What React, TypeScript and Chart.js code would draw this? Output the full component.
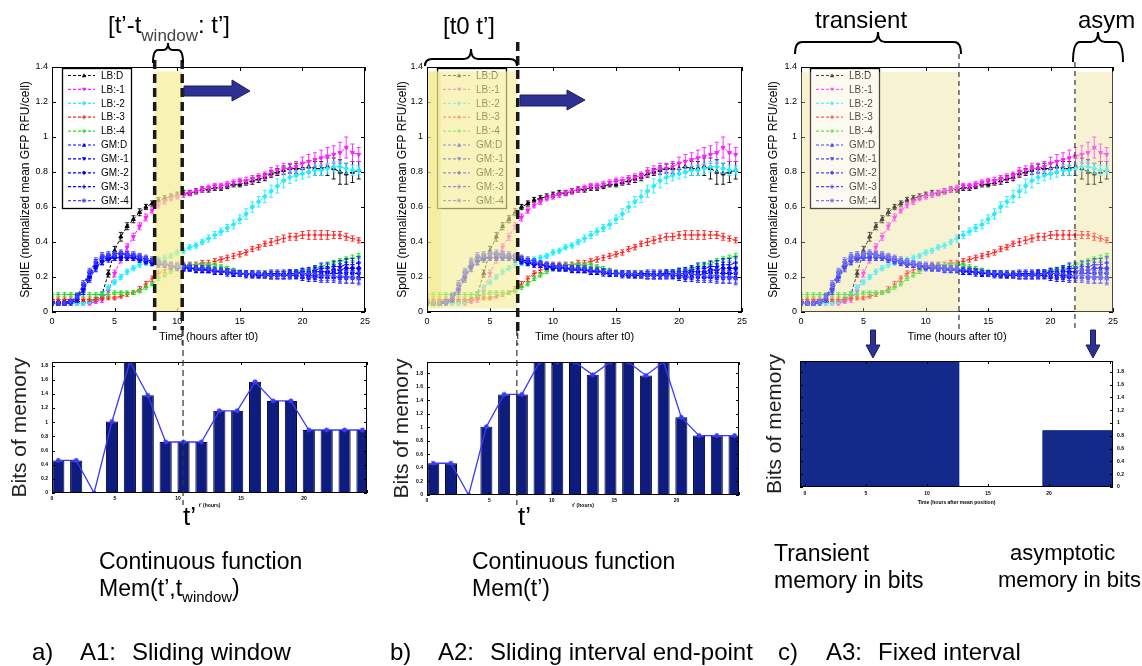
import React, { useEffect, useRef } from "react";
import { Chart, registerables } from "chart.js";

Chart.register(...registerables);
Chart.defaults.font.family = '"Liberation Sans", Arial, Helvetica, sans-serif';
Chart.defaults.color = "#000";

// ---------------- data: SpoIIE time courses ----------------
const timeHours = [
  0, 0.5, 1, 1.5, 2, 2.5, 3, 3.5, 4, 4.5,
  5, 5.5, 6, 6.5, 7, 7.5, 8, 8.5, 9, 9.5,
  10, 10.5, 11, 11.5, 12, 12.5, 13, 13.5, 14, 14.5,
  15, 15.5, 16, 16.5, 17, 17.5, 18, 18.5, 19, 19.5,
  20, 20.5, 21, 21.5, 22, 22.5, 23, 23.5, 24, 24.5,
];

const lbD = [
  0.06, 0.06, 0.06, 0.06, 0.06, 0.06, 0.06, 0.07, 0.10, 0.22,
  0.35, 0.43, 0.49, 0.53, 0.57, 0.60, 0.62, 0.64, 0.65, 0.66,
  0.67, 0.68, 0.68, 0.69, 0.70, 0.70, 0.71, 0.71, 0.72, 0.73,
  0.73, 0.74, 0.75, 0.76, 0.77, 0.79, 0.80, 0.81, 0.82, 0.82,
  0.82, 0.83, 0.82, 0.82, 0.83, 0.82, 0.80, 0.79, 0.80, 0.81,
];
const lbM1 = [
  0.05, 0.05, 0.05, 0.05, 0.05, 0.05, 0.05, 0.06, 0.07, 0.12,
  0.22, 0.30, 0.37, 0.43, 0.49, 0.54, 0.58, 0.61, 0.63, 0.65,
  0.66, 0.67, 0.68, 0.69, 0.70, 0.71, 0.72, 0.72, 0.73, 0.74,
  0.75, 0.75, 0.76, 0.77, 0.78, 0.80, 0.81, 0.82, 0.82, 0.83,
  0.85, 0.86, 0.87, 0.88, 0.89, 0.90, 0.91, 0.94, 0.91, 0.90,
];
const lbM2 = [
  0.05, 0.05, 0.05, 0.05, 0.05, 0.05, 0.06, 0.07, 0.10, 0.14,
  0.17, 0.20, 0.23, 0.25, 0.27, 0.28, 0.29, 0.30, 0.31, 0.32,
  0.34, 0.35, 0.37, 0.38, 0.40, 0.42, 0.44, 0.46, 0.48, 0.50,
  0.53, 0.56, 0.60, 0.63, 0.66, 0.69, 0.72, 0.75, 0.77, 0.78,
  0.79, 0.80, 0.81, 0.81, 0.82, 0.83, 0.83, 0.82, 0.81, 0.81,
];
const lbM3 = [
  0.07, 0.07, 0.07, 0.07, 0.07, 0.07, 0.07, 0.07, 0.08, 0.08,
  0.08, 0.09, 0.10, 0.11, 0.13, 0.16, 0.19, 0.22, 0.24, 0.25,
  0.26, 0.27, 0.27, 0.27, 0.28, 0.28, 0.29, 0.30, 0.31, 0.32,
  0.33, 0.34, 0.36, 0.37, 0.39, 0.40, 0.41, 0.42, 0.43, 0.43,
  0.44, 0.44, 0.44, 0.44, 0.44, 0.44, 0.44, 0.43, 0.42, 0.41,
];
const lbM4 = [
  0.10, 0.10, 0.10, 0.10, 0.10, 0.10, 0.10, 0.10, 0.10, 0.10,
  0.11, 0.11, 0.11, 0.11, 0.12, 0.14, 0.16, 0.19, 0.21, 0.23,
  0.25, 0.26, 0.27, 0.27, 0.27, 0.27, 0.27, 0.26, 0.25, 0.24,
  0.23, 0.22, 0.22, 0.22, 0.22, 0.22, 0.22, 0.22, 0.23, 0.23,
  0.24, 0.24, 0.25, 0.26, 0.27, 0.28, 0.29, 0.30, 0.31, 0.32,
];
const gmD = [
  0.05, 0.05, 0.05, 0.06, 0.08, 0.14, 0.21, 0.27, 0.30, 0.31,
  0.32, 0.32, 0.32, 0.32, 0.31, 0.30, 0.29, 0.28, 0.27, 0.26,
  0.26, 0.25, 0.25, 0.25, 0.25, 0.24, 0.24, 0.23, 0.23, 0.22,
  0.22, 0.22, 0.21, 0.21, 0.21, 0.21, 0.21, 0.21, 0.21, 0.21,
  0.20, 0.20, 0.20, 0.20, 0.20, 0.20, 0.20, 0.20, 0.20, 0.20,
];
const gmM1 = [
  0.05, 0.05, 0.05, 0.06, 0.09, 0.15, 0.22, 0.28, 0.31, 0.32,
  0.33, 0.33, 0.33, 0.32, 0.31, 0.30, 0.29, 0.28, 0.27, 0.27,
  0.26, 0.26, 0.25, 0.25, 0.24, 0.24, 0.23, 0.23, 0.22, 0.22,
  0.22, 0.21, 0.21, 0.21, 0.21, 0.21, 0.21, 0.21, 0.21, 0.21,
  0.21, 0.21, 0.21, 0.21, 0.22, 0.22, 0.22, 0.22, 0.22, 0.22,
];
const gmM2 = [
  0.05, 0.05, 0.05, 0.06, 0.08, 0.13, 0.20, 0.26, 0.29, 0.31,
  0.31, 0.31, 0.31, 0.31, 0.30, 0.29, 0.28, 0.27, 0.27, 0.26,
  0.25, 0.25, 0.25, 0.24, 0.24, 0.24, 0.23, 0.23, 0.23, 0.22,
  0.22, 0.22, 0.22, 0.21, 0.21, 0.21, 0.21, 0.21, 0.22, 0.22,
  0.22, 0.22, 0.23, 0.23, 0.23, 0.24, 0.24, 0.25, 0.25, 0.25,
];
const gmM3 = [
  0.05, 0.05, 0.05, 0.05, 0.07, 0.12, 0.19, 0.25, 0.29, 0.30,
  0.31, 0.31, 0.31, 0.31, 0.30, 0.29, 0.28, 0.28, 0.27, 0.26,
  0.26, 0.25, 0.25, 0.24, 0.24, 0.24, 0.23, 0.23, 0.23, 0.22,
  0.22, 0.22, 0.22, 0.22, 0.22, 0.22, 0.22, 0.22, 0.22, 0.22,
  0.23, 0.23, 0.24, 0.25, 0.25, 0.26, 0.26, 0.27, 0.27, 0.28,
];
const gmM4 = [
  0.05, 0.05, 0.05, 0.06, 0.09, 0.16, 0.23, 0.29, 0.32, 0.33,
  0.33, 0.34, 0.33, 0.33, 0.32, 0.31, 0.30, 0.29, 0.28, 0.27,
  0.27, 0.26, 0.26, 0.25, 0.25, 0.25, 0.24, 0.24, 0.23, 0.23,
  0.22, 0.22, 0.22, 0.22, 0.21, 0.21, 0.21, 0.21, 0.21, 0.22,
  0.22, 0.22, 0.22, 0.21, 0.21, 0.21, 0.21, 0.20, 0.20, 0.19,
];

// error bar half-lengths
const errLbD = [
  0.01, 0.01, 0.01, 0.01, 0.01, 0.01, 0.01, 0.01, 0.015, 0.02,
  0.025, 0.025, 0.02, 0.02, 0.02, 0.015, 0.015, 0.015, 0.015, 0.015,
  0.015, 0.015, 0.015, 0.015, 0.015, 0.015, 0.015, 0.015, 0.015, 0.015,
  0.015, 0.015, 0.02, 0.02, 0.02, 0.02, 0.02, 0.025, 0.025, 0.03,
  0.03, 0.035, 0.04, 0.04, 0.05, 0.06, 0.07, 0.06, 0.06, 0.05,
];
const errLbM1 = [
  0.01, 0.01, 0.01, 0.01, 0.01, 0.01, 0.01, 0.01, 0.015, 0.02,
  0.02, 0.02, 0.02, 0.02, 0.02, 0.02, 0.015, 0.015, 0.015, 0.015,
  0.015, 0.015, 0.015, 0.015, 0.015, 0.015, 0.015, 0.015, 0.015, 0.015,
  0.015, 0.02, 0.02, 0.02, 0.02, 0.025, 0.025, 0.03, 0.03, 0.03,
  0.035, 0.04, 0.04, 0.045, 0.05, 0.05, 0.06, 0.06, 0.05, 0.04,
];
const errLbM2 = [
  0.01, 0.01, 0.01, 0.01, 0.01, 0.01, 0.01, 0.01, 0.015, 0.015,
  0.015, 0.015, 0.015, 0.015, 0.015, 0.015, 0.015, 0.015, 0.015, 0.015,
  0.015, 0.015, 0.015, 0.015, 0.015, 0.02, 0.02, 0.02, 0.02, 0.025,
  0.025, 0.03, 0.03, 0.03, 0.035, 0.035, 0.04, 0.04, 0.035, 0.03,
  0.03, 0.03, 0.03, 0.03, 0.03, 0.03, 0.03, 0.03, 0.03, 0.025,
];
const errLbM3 = [
  0.01, 0.01, 0.01, 0.01, 0.01, 0.01, 0.01, 0.01, 0.01, 0.01,
  0.01, 0.01, 0.01, 0.01, 0.015, 0.015, 0.015, 0.015, 0.015, 0.015,
  0.015, 0.015, 0.015, 0.015, 0.015, 0.015, 0.015, 0.015, 0.015, 0.015,
  0.015, 0.015, 0.015, 0.015, 0.015, 0.02, 0.02, 0.02, 0.02, 0.02,
  0.02, 0.025, 0.025, 0.025, 0.025, 0.02, 0.02, 0.02, 0.015, 0.015,
];
const errLbM4 = [
  0.01, 0.01, 0.01, 0.01, 0.01, 0.01, 0.01, 0.01, 0.01, 0.01,
  0.01, 0.01, 0.01, 0.01, 0.01, 0.01, 0.01, 0.01, 0.01, 0.01,
  0.01, 0.01, 0.01, 0.01, 0.01, 0.01, 0.01, 0.01, 0.01, 0.01,
  0.01, 0.01, 0.01, 0.01, 0.01, 0.01, 0.01, 0.01, 0.01, 0.01,
  0.01, 0.01, 0.01, 0.01, 0.015, 0.015, 0.015, 0.015, 0.015, 0.015,
];
const errGm = [
  0.01, 0.01, 0.01, 0.01, 0.015, 0.02, 0.02, 0.02, 0.02, 0.015,
  0.015, 0.015, 0.015, 0.015, 0.015, 0.015, 0.015, 0.015, 0.015, 0.015,
  0.015, 0.015, 0.015, 0.015, 0.015, 0.015, 0.015, 0.015, 0.015, 0.015,
  0.015, 0.015, 0.015, 0.015, 0.015, 0.02, 0.02, 0.02, 0.02, 0.02,
  0.02, 0.025, 0.025, 0.03, 0.03, 0.03, 0.035, 0.035, 0.035, 0.035,
];

const seriesLabels = ["LB:D", "LB:-1", "LB:-2", "LB:-3", "LB:-4", "GM:D", "GM:-1", "GM:-2", "GM:-3", "GM:-4"];
const seriesValues = [lbD, lbM1, lbM2, lbM3, lbM4, gmD, gmM1, gmM2, gmM3, gmM4];
const seriesErrors = [errLbD, errLbM1, errLbM2, errLbM3, errLbM4, errGm, errGm, errGm, errGm, errGm];
const seriesColors = ["#000000", "#ff1eff", "#22eeff", "#ff2222", "#1ee01e", "#0000ff", "#0000ff", "#0000ff", "#0000ff", "#4646ff"];
const seriesMarkers = ["tri", "triDown", "diamond", "plus", "plus", "tri", "triDown", "diamond", "plus", "star"];

// ---------------- data: memory bars ----------------
const windowEndTimes = [0.5, 1.92, 3.34, 4.76, 6.18, 7.6, 9.02, 10.44, 11.86, 13.28, 14.7, 16.12, 17.54, 18.96, 20.38, 21.8, 23.22, 24.64];
const memSlidingWindow = [0.46, 0.46, 0, 1.01, 1.85, 1.38, 0.72, 0.72, 0.72, 1.16, 1.16, 1.57, 1.3, 1.3, 0.89, 0.89, 0.89, 0.89];
const memSlidingEndpoint = [0.47, 0.47, 0, 1.01, 1.49, 1.49, 1.97, 1.97, 1.97, 1.78, 1.97, 1.97, 1.77, 1.97, 1.15, 0.88, 0.88, 0.88];
const fixedIntervalStart = [-0.4, 19.5];
const fixedIntervalEnd = [12.6, 25.25];
const fixedMemoryBits = [1.97, 0.88];

// interval markers (hours)
const windowStart = 8.2;
const windowEnd = 10.4;
const endpointT = 7.2;
const transientEnd = 12.66;
const asymStart = 21.95;

// ---------------- plugins ----------------
function drawMarker(ctx: any, kind: string, x: number, y: number, r: number, color: string) {
  ctx.save();
  ctx.fillStyle = color;
  ctx.strokeStyle = color;
  ctx.lineWidth = 1;
  ctx.beginPath();
  if (kind === "tri") {
    ctx.moveTo(x, y - r); ctx.lineTo(x + r, y + r * 0.8); ctx.lineTo(x - r, y + r * 0.8); ctx.closePath(); ctx.fill();
  } else if (kind === "triDown") {
    ctx.moveTo(x, y + r); ctx.lineTo(x + r, y - r * 0.8); ctx.lineTo(x - r, y - r * 0.8); ctx.closePath(); ctx.fill();
  } else if (kind === "diamond") {
    ctx.moveTo(x, y - r); ctx.lineTo(x + r, y); ctx.lineTo(x, y + r); ctx.lineTo(x - r, y); ctx.closePath(); ctx.fill();
  } else if (kind === "plus") {
    ctx.moveTo(x - r, y); ctx.lineTo(x + r, y); ctx.moveTo(x, y - r); ctx.lineTo(x, y + r); ctx.stroke();
  } else {
    ctx.moveTo(x - r, y); ctx.lineTo(x + r, y); ctx.moveTo(x, y - r); ctx.lineTo(x, y + r);
    ctx.moveTo(x - r * 0.7, y - r * 0.7); ctx.lineTo(x + r * 0.7, y + r * 0.7);
    ctx.moveTo(x - r * 0.7, y + r * 0.7); ctx.lineTo(x + r * 0.7, y - r * 0.7); ctx.stroke();
  }
  ctx.restore();
}

const errorBarPlugin = {
  id: "mErr",
  afterDatasetDraw(chart: any, args: any) {
    const ds = chart.data.datasets[args.index];
    if (!ds.errors) return;
    const { ctx, chartArea: a } = chart;
    const ys = chart.scales.y;
    ctx.save();
    ctx.beginPath();
    ctx.rect(a.left, a.top, a.right - a.left, a.bottom - a.top);
    ctx.clip();
    ctx.strokeStyle = ds.borderColor;
    ctx.lineWidth = 0.9;
    args.meta.data.forEach((el: any, j: number) => {
      const v = ds.data[j].y;
      const e = ds.errors[j];
      const y1 = ys.getPixelForValue(v + e);
      const y2 = ys.getPixelForValue(v - e);
      ctx.beginPath();
      ctx.moveTo(el.x, y1); ctx.lineTo(el.x, y2);
      ctx.moveTo(el.x - 2, y1); ctx.lineTo(el.x + 2, y1);
      ctx.moveTo(el.x - 2, y2); ctx.lineTo(el.x + 2, y2);
      ctx.stroke();
    });
    ctx.restore();
  },
};

function paintBands(chart: any, o: any, alphaScale: number) {
  const { ctx } = chart;
  const xs = chart.scales.x;
  const ys = chart.scales.y;
  ctx.save();
  o.bands.forEach((b: any) => {
    const x1 = xs.getPixelForValue(b.from);
    const x2 = xs.getPixelForValue(b.to);
    const y1 = ys.getPixelForValue(b.yTo);
    const y2 = ys.getPixelForValue(b.yFrom);
    ctx.globalAlpha = (b.alpha ?? 1) * alphaScale;
    ctx.fillStyle = b.color;
    ctx.fillRect(x1, y1, x2 - x1, y2 - y1);
  });
  ctx.restore();
}

const bandPlugin = {
  id: "mBands",
  beforeDatasetsDraw(chart: any, _a: any, o: any) {
    if (!o || !o.bands) return;
    if (o.under) paintBands(chart, o, 1);
  },
  afterDraw(chart: any, _a: any, o: any) {
    if (!o || !o.bands) return;
    if (o.overAlpha) paintBands(chart, o, o.overAlpha);
  },
};

const boxPlugin = {
  id: "mBox",
  afterDatasetsDraw(chart: any, _a: any, o: any) {
    const { ctx, chartArea: a } = chart;
    ctx.save();
    ctx.strokeStyle = "#000";
    ctx.lineWidth = 1;
    ctx.strokeRect(a.left + 0.5, a.top + 0.5, a.right - a.left - 1, a.bottom - a.top - 1);
    const tl = (o && o.tick) || 4;
    const xs = chart.scales.x;
    xs.ticks.forEach((_t: any, i: number) => {
      const px = Math.round(xs.getPixelForTick(i)) + 0.5;
      ctx.beginPath();
      ctx.moveTo(px, a.bottom); ctx.lineTo(px, a.bottom - tl);
      ctx.moveTo(px, a.top); ctx.lineTo(px, a.top + tl);
      ctx.stroke();
    });
    const ys = chart.scales[(o && o.yId) || "y"];
    ys.ticks.forEach((_t: any, i: number) => {
      const py = Math.round(ys.getPixelForTick(i)) + 0.5;
      ctx.beginPath();
      ctx.moveTo(a.left, py); ctx.lineTo(a.left + tl, py);
      ctx.moveTo(a.right, py); ctx.lineTo(a.right - tl, py);
      ctx.stroke();
    });
    ctx.restore();
  },
};

const legendPlugin = {
  id: "mLegend",
  afterDatasetsDraw(chart: any, _a: any, o: any) {
    if (!o || o.dx === undefined) return;
    const { ctx, chartArea: a } = chart;
    const x0 = Math.round(a.left + o.dx);
    const y0 = Math.round(a.top + o.dy);
    const w = 69;
    const h = 140;
    ctx.save();
    ctx.fillStyle = "#fff";
    ctx.fillRect(x0, y0, w, h);
    ctx.strokeStyle = "#000";
    ctx.lineWidth = 1.3;
    ctx.strokeRect(x0 + 0.5, y0 + 0.5, w, h);
    seriesLabels.forEach((lab, i) => {
      const y = y0 + 7.5 + i * 13.9;
      ctx.strokeStyle = seriesColors[i];
      ctx.lineWidth = 1.2;
      ctx.setLineDash([3, 2]);
      ctx.beginPath();
      ctx.moveTo(x0 + 6, y); ctx.lineTo(x0 + 33, y);
      ctx.stroke();
      ctx.setLineDash([]);
      drawMarker(ctx, seriesMarkers[i], x0 + 22, y, 2.2, seriesColors[i]);
      ctx.fillStyle = "#000";
      ctx.font = '10px "Liberation Sans", Arial, sans-serif';
      ctx.textBaseline = "middle";
      ctx.textAlign = "left";
      ctx.fillText(lab, x0 + 39, y + 0.5);
    });
    ctx.restore();
  },
};

const vlinePlugin = {
  id: "mLines",
  afterDraw(chart: any, _a: any, o: any) {
    if (!o || !o.lines) return;
    const { ctx } = chart;
    const xs = chart.scales.x;
    ctx.save();
    o.lines.forEach((l: any) => {
      const px = xs.getPixelForValue(l.x);
      ctx.strokeStyle = l.color;
      ctx.lineWidth = l.width;
      ctx.setLineDash(l.dash);
      ctx.beginPath();
      ctx.moveTo(px, l.y0);
      ctx.lineTo(px, l.y1);
      ctx.stroke();
    });
    ctx.restore();
  },
};

// ---------------- chart configs ----------------
const pointStyleOf: Record<string, string> = { tri: "triangle", triDown: "triangle", diamond: "rectRot", plus: "cross", star: "star" };
const fmtTick = (v: any) => String(Math.round(Number(v) * 10) / 10);

function topConfig(p: any) {
  const datasets = seriesValues.map((vals, i) => ({
    label: seriesLabels[i],
    data: vals.map((v, j) => ({ x: timeHours[j], y: v })),
    errors: seriesErrors[i],
    borderColor: seriesColors[i],
    backgroundColor: seriesColors[i],
    borderWidth: 1,
    borderDash: [3, 2],
    pointStyle: pointStyleOf[seriesMarkers[i]],
    rotation: seriesMarkers[i] === "triDown" ? 180 : 0,
    pointRadius: 2.3,
    pointBorderWidth: 1,
    tension: 0,
    order: 10 - i,
  }));
  return {
    type: "line",
    data: { datasets },
    options: {
      responsive: false,
      animation: false,
      devicePixelRatio: 1,
      events: [],
      layout: { padding: { top: 67, right: p.padRight, left: 0, bottom: 0 } },
      plugins: {
        legend: { display: false },
        tooltip: { enabled: false },
        mLegend: { dx: p.legendDx, dy: 1 },
        mBands: p.bands,
        mLines: { lines: p.lines },
        mBox: { tick: 4 },
      },
      scales: {
        x: {
          type: "linear",
          min: 0,
          max: 25,
          grid: { display: false, drawTicks: false },
          border: { display: false },
          ticks: { stepSize: 5, font: { size: 9 }, color: "#000", padding: 4, maxRotation: 0 },
          title: { display: true, text: "Time (hours after t0)", font: { size: 11 }, color: "#000", padding: { top: 0, bottom: 1 } },
          afterFit: (s: any) => { s.height = 33; },
        },
        y: {
          min: 0,
          max: 1.4,
          grid: { display: false, drawTicks: false },
          border: { display: false },
          ticks: { stepSize: 0.2, font: { size: 9 }, color: "#000", padding: 4, callback: fmtTick },
          title: { display: true, text: "SpoIIE (normalized mean GFP RFU/cell)", font: { size: 12 }, color: "#000", padding: { top: p.yTitlePad, bottom: 0 } },
          afterFit: (s: any) => { s.width = p.yWidth; },
        },
      },
    },
    plugins: [errorBarPlugin, bandPlugin, boxPlugin, legendPlugin, vlinePlugin],
  };
}

const tinyFont = { size: 5, weight: "bold" as const };

function barConfig(p: any) {
  const vals: number[] = p.values;
  return {
    type: "bar",
    data: {
      datasets: [
        {
          type: "line",
          data: vals.map((v, i) => ({ x: windowEndTimes[i], y: v })),
          borderColor: "#3a3aff",
          backgroundColor: "#3a3aff",
          borderWidth: 1.3,
          pointStyle: "star",
          pointRadius: 2.6,
          pointBorderWidth: 1.2,
          tension: 0,
          order: 0,
        },
        {
          type: "bar",
          data: vals.map((v, i) => ({ x: windowEndTimes[i], y: v })),
          backgroundColor: "#0e1c80",
          borderColor: "#000022",
          borderWidth: 1,
          barPercentage: 0.68,
          categoryPercentage: 1,
          order: 1,
        },
      ],
    },
    options: {
      responsive: false,
      animation: false,
      devicePixelRatio: 1,
      events: [],
      layout: { padding: { top: p.top, right: p.padRight, left: 0, bottom: 0 } },
      plugins: {
        legend: { display: false },
        tooltip: { enabled: false },
        mBox: { tick: 3 },
        mLines: { lines: p.lines },
      },
      scales: {
        x: {
          type: "linear",
          min: 0,
          max: 25,
          offset: false,
          grid: { display: false, drawTicks: false, offset: false },
          border: { display: false },
          ticks: { stepSize: 5, font: tinyFont, color: "#000", padding: 3, maxRotation: 0, callback: (v: any) => (v === 25 ? "" : String(v)) },
          title: { display: true, text: "t’ (hours)", font: tinyFont, color: "#000", padding: { top: 0, bottom: 1 } },
          afterFit: (s: any) => { s.height = p.xHeight; },
        },
        y: {
          min: 0,
          max: p.yMax,
          grid: { display: false, drawTicks: false },
          border: { display: false },
          ticks: { stepSize: 0.2, includeBounds: false, font: tinyFont, color: "#000", padding: 4, callback: fmtTick },
          title: { display: true, text: "Bits of memory", font: { size: 21 }, color: "#222", padding: { top: p.yTitlePad, bottom: 0 } },
          afterFit: (s: any) => { s.width = p.yWidth; },
        },
      },
    },
    plugins: [boxPlugin, vlinePlugin],
  };
}

function fixedConfig() {
  const datasets = fixedMemoryBits.map((v, i) => ({
    type: "line",
    data: [
      { x: fixedIntervalStart[i], y: 0 },
      { x: fixedIntervalStart[i], y: v },
      { x: fixedIntervalEnd[i], y: v },
      { x: fixedIntervalEnd[i], y: 0 },
    ],
    fill: "origin",
    backgroundColor: "#132a8a",
    borderColor: "#132a8a",
    borderWidth: 1,
    pointRadius: 0,
    tension: 0,
  }));
  return {
    type: "line",
    data: { datasets },
    options: {
      responsive: false,
      animation: false,
      devicePixelRatio: 1,
      events: [],
      layout: { padding: { top: 31, right: 0, left: 0, bottom: 0 } },
      plugins: {
        legend: { display: false },
        tooltip: { enabled: false },
        mBox: { tick: 3, yId: "y2" },
      },
      scales: {
        x: {
          type: "linear",
          min: -0.4,
          max: 25.25,
          grid: { display: false, drawTicks: false },
          border: { display: false },
          ticks: { stepSize: 5, includeBounds: false, font: tinyFont, color: "#000", padding: 4, maxRotation: 0, callback: (v: any) => (v === 25 ? "" : String(v)) },
          title: { display: true, text: "Time (hours after mean position)", font: tinyFont, color: "#000", padding: { top: 0, bottom: 4 } },
          afterFit: (s: any) => { s.height = 23; },
        },
        y: {
          min: 0,
          max: 1.97,
          grid: { display: false, drawTicks: false },
          border: { display: false },
          ticks: { display: false },
          title: { display: true, text: "Bits of memory", font: { size: 21 }, color: "#222", padding: { top: 3, bottom: 0 } },
          afterFit: (s: any) => { s.width = 40; },
        },
        y2: {
          position: "right",
          min: 0,
          max: 1.97,
          grid: { display: false, drawTicks: false },
          border: { display: false },
          ticks: { stepSize: 0.2, includeBounds: false, font: tinyFont, color: "#000", padding: 4, callback: fmtTick },
          afterFit: (s: any) => { s.width = 29; },
        },
      },
    },
    plugins: [boxPlugin],
  };
}

// ---------------- components ----------------
function ChartBox({ left, top, width, height, build }: any) {
  const ref = useRef<HTMLCanvasElement>(null);
  useEffect(() => {
    const chart = new Chart(ref.current as any, build() as any);
    return () => chart.destroy();
  }, []);
  return <canvas ref={ref} width={width} height={height} style={{ position: "absolute", left, top, width, height }} />;
}

function Txt({ x, y, size, children, color }: any) {
  return (
    <div style={{ position: "absolute", left: x, top: y, fontSize: size, lineHeight: 1, whiteSpace: "pre", color: color || "#000" }}>
      {children}
    </div>
  );
}

function bracePath(x1: number, x2: number, yt: number, ym: number, yb: number) {
  const xm = (x1 + x2) / 2;
  const r = Math.min(7, (x2 - x1) / 6);
  return `M${x1},${yb} Q${x1},${ym} ${x1 + r},${ym} L${xm - r},${ym} Q${xm},${ym} ${xm},${yt} Q${xm},${ym} ${xm + r},${ym} L${x2 - r},${ym} Q${x2},${ym} ${x2},${yb}`;
}

const thick = { width: 3.5, dash: [9, 5], color: "#1a1a1a" };
const thin = { width: 1.2, dash: [6, 4], color: "#333" };

export default function App() {
  const yellow = "rgb(245,237,150)";
  const sub = (s: string, size: number, shift: number, color?: string) => (
    <span style={{ fontSize: size, position: "relative", top: shift, color: color || "inherit" }}>{s}</span>
  );
  return (
    <div style={{ position: "absolute", left: 0, top: 0, width: 1142, height: 666, background: "#fff", overflow: "hidden", fontFamily: '"Liberation Sans", Arial, Helvetica, sans-serif' }}>
      {/* top line charts */}
      <ChartBox
        left={0} top={0} width={380} height={345}
        build={() => topConfig({
          padRight: 15, yWidth: 52, yTitlePad: 18, legendDx: 10,
          bands: { overAlpha: 1, bands: [{ from: windowStart, to: windowEnd, yFrom: 0.005, yTo: 1.375, color: yellow, alpha: 0.72 }] },
          lines: [
            { x: windowStart, y0: 60, y1: 330, ...thick },
            { x: windowEnd, y0: 60, y1: 330, ...thick },
            { x: windowEnd, y0: 330, y1: 345, ...thin },
          ],
        })}
      />
      <ChartBox
        left={380} top={0} width={380} height={345}
        build={() => topConfig({
          padRight: 18, yWidth: 47, yTitlePad: 15, legendDx: 10,
          bands: { overAlpha: 1, bands: [
            { from: 0.1, to: endpointT, yFrom: 0.02, yTo: 1.375, color: yellow, alpha: 0.62 },
            { from: 0.1, to: 1.1, yFrom: 0.02, yTo: 1.375, color: "rgb(238,226,110)", alpha: 0.35 },
          ] },
          lines: [
            { x: endpointT, y0: 42, y1: 333, ...thick },
            { x: endpointT, y0: 333, y1: 345, ...thin },
          ],
        })}
      />
      <ChartBox
        left={760} top={0} width={382} height={345}
        build={() => topConfig({
          padRight: 29, yWidth: 41, yTitlePad: 6, legendDx: 9,
          bands: { under: true, overAlpha: 0.3, bands: [
            { from: 0, to: transientEnd, yFrom: 0, yTo: 1.37, color: "rgb(247,242,210)", alpha: 1 },
            { from: asymStart, to: 25, yFrom: 0, yTo: 1.37, color: "rgb(247,242,210)", alpha: 1 },
          ] },
          lines: [
            { x: transientEnd, y0: 54, y1: 332, width: 1.2, dash: [5, 4], color: "#333" },
            { x: asymStart, y0: 62, y1: 332, width: 1.2, dash: [5, 4], color: "#333" },
          ],
        })}
      />

      {/* bottom memory charts */}
      <ChartBox
        left={0} top={330} width={380} height={180}
        build={() => barConfig({
          values: memSlidingWindow, yMax: 1.85, top: 32, padRight: 13, xHeight: 17, yWidth: 52, yTitlePad: 8,
          lines: [{ x: windowEnd, y0: 0, y1: 175, ...thin }],
        })}
      />
      <ChartBox
        left={380} top={330} width={380} height={180}
        build={() => barConfig({
          values: memSlidingEndpoint, yMax: 1.97, top: 32, padRight: 21, xHeight: 15, yWidth: 47, yTitlePad: 10,
          lines: [{ x: endpointT, y0: 0, y1: 175, ...thin }],
        })}
      />
      <ChartBox left={760} top={330} width={382} height={180} build={() => fixedConfig()} />

      {/* decorations */}
      <svg width={1142} height={666} style={{ position: "absolute", left: 0, top: 0, pointerEvents: "none" }}>
        <g fill="none" stroke="#000" strokeWidth={2}>
          <path d={bracePath(153, 183, 43, 50, 63)} />
          <path d={bracePath(425, 517, 49, 59, 66)} />
          <path d={bracePath(795, 961, 32, 42, 54)} />
          <path d={bracePath(1073, 1123, 32, 42, 62)} />
        </g>
        <g fill="#2e3192" stroke="#1b1f5e" strokeWidth={1}>
          <polygon points="184,86 232,86 232,80 250,91 232,101 232,96 184,96" />
          <polygon points="520,95 567,95 567,90 585,100 567,110 567,106 520,106" />
          <polygon points="870.5,330 875.5,330 875.5,345 880,345 873,358 866,345 870.5,345" />
          <polygon points="1090.5,330 1095.5,330 1095.5,345 1100,345 1093,358 1086,345 1090.5,345" />
        </g>
      </svg>

      {/* top annotations */}
      <Txt x={108} y={13} size={24}>[t’-t{sub("window", 17, 8, "#444")}: t’]</Txt>
      <Txt x={443} y={14} size={24}>[t0 t’]</Txt>
      <Txt x={815} y={8} size={24}>transient</Txt>
      <Txt x={1078} y={8} size={24}>asym</Txt>

      {/* t' under bars */}
      <Txt x={183} y={503} size={26}>t’</Txt>
      <Txt x={518} y={503} size={26}>t’</Txt>

      {/* captions */}
      <Txt x={99} y={550} size={23}>Continuous function</Txt>
      <Txt x={99} y={577} size={23}>Mem(t’,t{sub("window", 15, 6)})</Txt>
      <Txt x={472} y={550} size={23}>Continuous function</Txt>
      <Txt x={472} y={577} size={23}>Mem(t’)</Txt>
      <Txt x={774} y={542} size={23}>Transient</Txt>
      <Txt x={774} y={569} size={23}>memory in bits</Txt>
      <Txt x={1010} y={542} size={22}>asymptotic</Txt>
      <Txt x={998} y={569} size={22}>memory in bits</Txt>

      <Txt x={32} y={640} size={24}>a)</Txt>
      <Txt x={80} y={640} size={24}>A1:</Txt>
      <Txt x={132} y={640} size={24}>Sliding window</Txt>
      <Txt x={390} y={640} size={24}>b)</Txt>
      <Txt x={438} y={640} size={24}>A2:</Txt>
      <Txt x={490} y={640} size={24}>Sliding interval end-point</Txt>
      <Txt x={778} y={640} size={24}>c)</Txt>
      <Txt x={826} y={640} size={24}>A3:</Txt>
      <Txt x={878} y={640} size={24}>Fixed interval</Txt>
    </div>
  );
}
